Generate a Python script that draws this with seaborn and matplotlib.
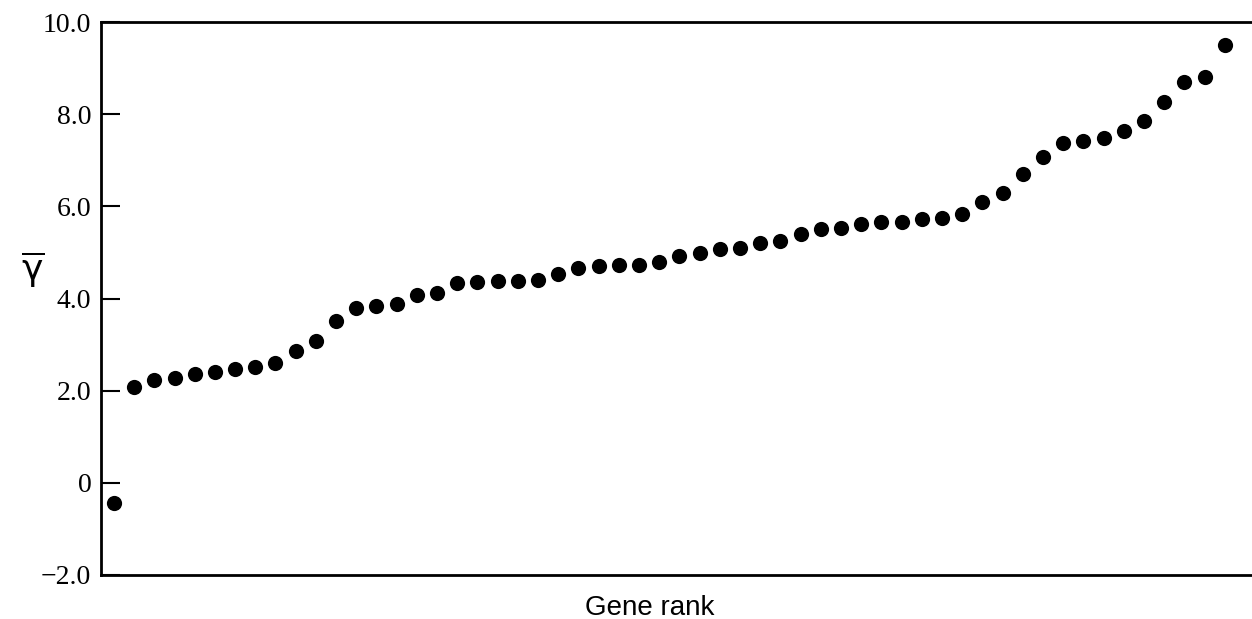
import matplotlib
matplotlib.use("Agg")
import matplotlib.pyplot as plt
import pandas as pd
import seaborn as sns

# Mean gamma per gene, sorted by rank
gamma_mean = [
    -0.43, 2.07, 2.24, 2.28, 2.37, 2.41, 2.46, 2.52, 2.59, 2.87,
    3.07, 3.52, 3.80, 3.83, 3.87, 4.07, 4.13, 4.33, 4.35, 4.37,
    4.37, 4.41, 4.54, 4.67, 4.70, 4.72, 4.72, 4.80, 4.93, 4.98,
    5.07, 5.09, 5.20, 5.24, 5.39, 5.50, 5.54, 5.61, 5.65, 5.65,
    5.72, 5.74, 5.83, 6.09, 6.30, 6.70, 7.07, 7.37, 7.41, 7.48,
    7.63, 7.85, 8.26, 8.70, 8.80, 9.50,
]
gene_rank = list(range(1, len(gamma_mean) + 1))
y_ticks = [-2, 0, 2, 4, 6, 8, 10]
y_tick_labels = ["\u22122.0", "0", "2.0", "4.0", "6.0", "8.0", "10.0"]

frame = pd.DataFrame({"Gene rank": gene_rank, "gamma": gamma_mean})

sns.set_style("ticks")
plt.rcParams["font.family"] = ["Liberation Serif", "DejaVu Serif"]
plt.rcParams["mathtext.fontset"] = "dejavusans"

fig = plt.figure(figsize=(12.52, 6.19), dpi=100)
ax = fig.add_axes([101 / 1252, 1 - 575 / 619, 1150 / 1252, 553 / 619])

sns.scatterplot(data=frame, x="Gene rank", y="gamma", ax=ax,
                color="black", s=120, linewidth=0, legend=False)

ax.set_xlim(0.36, 57.3)
ax.set_ylim(-2, 10)
ax.set_yticks(y_ticks)
ax.set_yticklabels(y_tick_labels)
ax.set_xticks([])
ax.tick_params(axis="y", direction="in", length=14, width=1.5, pad=7,
               labelsize=20, color="black", labelcolor="black")

for side in ["left", "top", "bottom"]:
    ax.spines[side].set_linewidth(2)
    ax.spines[side].set_color("black")
ax.spines["right"].set_visible(False)

ax.set_xlabel("Gene rank", fontsize=20, family=["Liberation Sans", "DejaVu Sans"],
              color="black")
ax.xaxis.set_label_coords(0.477, -0.036)
ax.set_ylabel(r"$\overline{\mathrm{\gamma}}$", fontsize=26, rotation=0, color="black")
ax.yaxis.set_label_coords(-0.059, 0.516)

fig.savefig("out.png", dpi=100)
